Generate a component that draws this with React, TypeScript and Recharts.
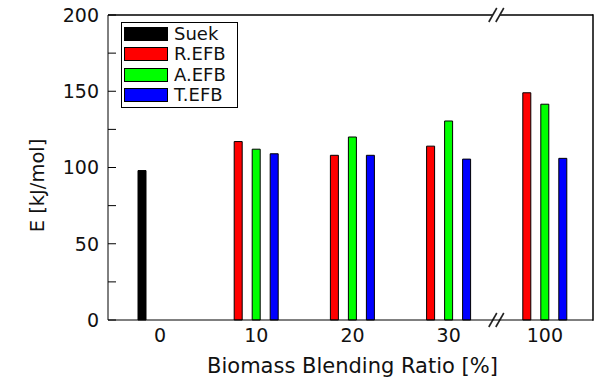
import React from 'react';
import { BarChart, Bar, XAxis, YAxis, Legend, ReferenceLine } from 'recharts';

const categories = ['0', '10', '20', '30', '100'];
const suekValues = [98, null, null, null, null];
const rEfbValues = [null, 117, 108, 114, 149];
const aEfbValues = [null, 112, 120, 130.5, 141.5];
const tEfbValues = [null, 109, 108, 105.5, 106];
const yTicks = [0, 25, 50, 75, 100, 125, 150, 175, 200];
const yLabelTicks = [0, 50, 100, 150, 200];
const seriesNames = ['Suek', 'R.EFB', 'A.EFB', 'T.EFB'];
const seriesColors = ['#000000', '#ff0000', '#00ff00', '#0000ff'];
const breakBefore = '100';

const data = categories.map((c, i) => ({
  cat: c,
  suek: suekValues[i],
  r: rEfbValues[i],
  a: aEfbValues[i],
  t: tEfbValues[i],
}));

const FONT = '"DejaVu Sans", sans-serif';
const TEXT = '#111';
const Y_AXIS_W = 108;
const X_PAD_LEFT = 4;

function YTick(props: any) {
  const { x, y, payload } = props;
  const v = payload.value;
  return (
    <g>
      <line x1={x} x2={x + 8} y1={y} y2={y} stroke="#000" strokeWidth={1} />
      {yLabelTicks.includes(v) && (
        <text x={x - 9} y={y} dy="0.36em" textAnchor="end" fontSize={19} fill={TEXT} fontFamily={FONT}>
          {v}
        </text>
      )}
    </g>
  );
}

function mark(cx: number, cy: number, key: string) {
  return (
    <g key={key}>
      <polygon points={`${cx - 7},${cy + 5} ${cx - 1},${cy - 5} ${cx + 6},${cy - 5} ${cx},${cy + 5}`} fill="#fff" />
      <line x1={cx - 8} y1={cy + 7} x2={cx} y2={cy - 7} stroke="#222" strokeWidth={1.6} />
      <line x1={cx - 1} y1={cy + 7} x2={cx + 7} y2={cy - 7} stroke="#222" strokeWidth={1.6} />
    </g>
  );
}

// Draws the plot frame (top and right edges) and the axis-break marks.
// x1 is the start of the band of the category after the break.
function BreakShape(props: any) {
  const bx = Number(props.x1);
  const ya = Number(props.y1);
  const yb = Number(props.y2);
  const bandStart0 = Y_AXIS_W + X_PAD_LEFT;
  const idx = categories.indexOf(breakBefore);
  const band = (bx - bandStart0) / idx;
  const right = bandStart0 + band * categories.length;
  const top = Math.min(ya, yb);
  const bottom = Math.max(ya, yb);
  return (
    <g>
      <rect x={Y_AXIS_W} y={top - 0.75} width={right - Y_AXIS_W} height={1.5} fill="#000" />
      <rect x={right - 0.75} y={top - 0.75} width={1.5} height={bottom - top + 1.5} fill="#000" />
      {mark(bx, ya, 'a')}
      {mark(bx, yb, 'b')}
    </g>
  );
}

function LegendBox(props: any) {
  const payload = [...(props.payload || [])].sort(
    (p: any, q: any) => seriesNames.indexOf(p.value) - seriesNames.indexOf(q.value)
  );
  return (
    <div
      style={{
        border: '1px solid #000',
        background: '#fff',
        width: 117,
        boxSizing: 'border-box',
        padding: '0.5px 0 1px 2px',
        fontFamily: FONT,
      }}
    >
      {payload.map((p: any, i: number) => (
        <div key={i} style={{ display: 'flex', alignItems: 'center', height: 20.5 }}>
          <div
            style={{
              width: 44,
              height: 14,
              boxSizing: 'border-box',
              border: '1px solid #000',
              background: p.color,
            }}
          />
          <span style={{ marginLeft: 6, fontSize: 18, lineHeight: '1', color: TEXT }}>{p.value}</span>
        </div>
      ))}
    </div>
  );
}

export default function App() {
  return (
    <div style={{ position: 'absolute', left: 0, top: 0, fontFamily: FONT }}>
      <BarChart
        width={596}
        height={382}
        data={data}
        margin={{ top: 15, right: 3, bottom: 0, left: 0 }}
        barSize={8}
        barGap={10}
      >
        <XAxis
          dataKey="cat"
          height={62}
          padding={{ left: X_PAD_LEFT, right: 0 }}
          tickLine={false}
          tickSize={0}
          tickMargin={9}
          axisLine={{ stroke: '#000', strokeWidth: 1 }}
          tick={{ fontSize: 19, fill: TEXT, fontFamily: FONT }}
          label={(p: any) => {
            const vb = p.viewBox;
            return (
              <text x={vb.x + vb.width / 2 + 2} y={vb.y + 53} textAnchor="middle" fontSize={21} fill={TEXT} fontFamily={FONT}>
                Biomass Blending Ratio [%]
              </text>
            );
          }}
        />
        <YAxis
          width={Y_AXIS_W}
          domain={[0, 200]}
          ticks={yTicks}
          interval={0}
          tickLine={false}
          tickSize={0}
          tickMargin={0}
          axisLine={{ stroke: '#000', strokeWidth: 1 }}
          tick={<YTick />}
          label={(p: any) => {
            const vb = p.viewBox;
            const cx = vb.x + 37;
            const cy = vb.y + vb.height / 2 + 18;
            return (
              <text
                x={cx}
                y={cy}
                transform={`rotate(-90, ${cx}, ${cy})`}
                textAnchor="middle"
                dy="0.35em"
                fontSize={19.5}
                fill={TEXT}
                fontFamily={FONT}
              >
                E [kJ/mol]
              </text>
            );
          }}
        />
        <Legend
          layout="vertical"
          align="center"
          verticalAlign="middle"
          wrapperStyle={{ left: 121, top: 22, width: 'auto' }}
          content={<LegendBox />}
        />
        <Bar dataKey="suek" name={seriesNames[0]} stackId="s" fill={seriesColors[0]} stroke="#000" strokeWidth={1} isAnimationActive={false} />
        <Bar dataKey="r" name={seriesNames[1]} stackId="s" fill={seriesColors[1]} stroke="#000" strokeWidth={1} isAnimationActive={false} />
        <Bar dataKey="a" name={seriesNames[2]} fill={seriesColors[2]} stroke="#000" strokeWidth={1} isAnimationActive={false} />
        <Bar dataKey="t" name={seriesNames[3]} fill={seriesColors[3]} stroke="#000" strokeWidth={1} isAnimationActive={false} />
        <ReferenceLine x={breakBefore} position="start" ifOverflow="visible" shape={<BreakShape />} />
      </BarChart>
    </div>
  );
}
